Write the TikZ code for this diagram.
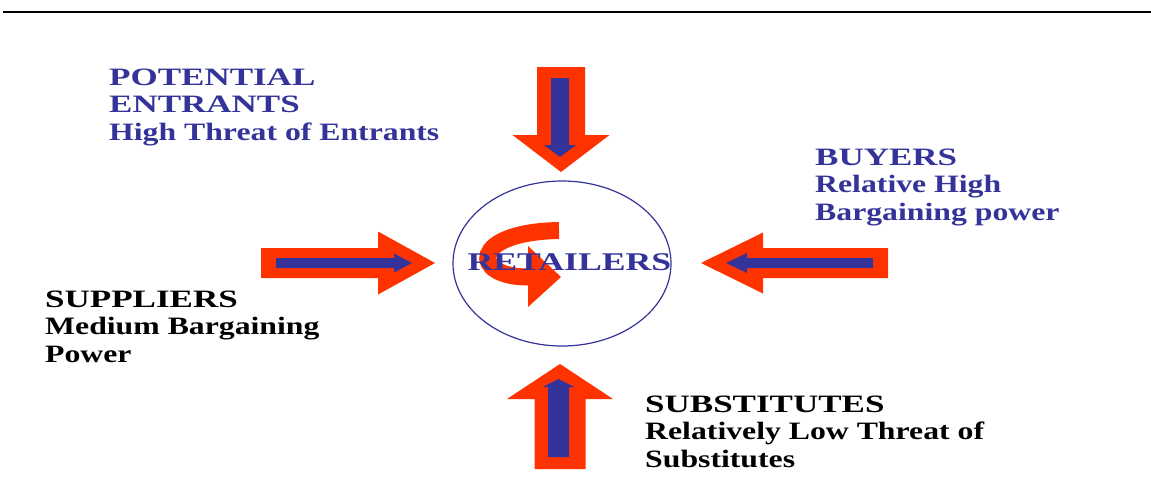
\documentclass[tikz,border=0pt]{standalone}
\usepackage{fontspec}
\setmainfont{Liberation Serif}
\newfontfamily\forcefont[FakeStretch=1.27]{Liberation Serif}
\newfontfamily\capsfont[FakeStretch=1.4]{Liberation Serif}
\usetikzlibrary{shapes.geometric}

\definecolor{forceblue}{RGB}{51,51,153}
\definecolor{forcered}{RGB}{255,51,0}

\begin{document}
\begin{tikzpicture}[x=1pt, y=-1pt]

\useasboundingbox (0,0) rectangle (1151,491);

\tikzset{%
    % length / head base / half shaft / half head, drawn from the tail along +x
    pics/fat arrow/.style args={#1/#2/#3/#4}{
        code={
            \fill (0,-#3) -- (#2,-#3) -- (#2,-#4) -- (#1,0)
                -- (#2,#4) -- (#2,#3) -- (0,#3) -- cycle;
        }
    },
    force label/.style={anchor=north west, inner sep=0, align=left,
        font=\forcefont\bfseries\fontsize{25}{27.5}\selectfont},
    hub ring/.style={draw=forceblue, line width=1.2pt, ellipse,
        minimum width=218pt, minimum height=165pt, inner sep=0}
}

\draw[line width=2.2pt] (3,12) -- (1151,12);

% the four forces, red body with a blue core
\pic[forcered, rotate=-90] at (561,67) {fat arrow=105/68/24/48.5};
\pic[forceblue, rotate=-90] at (560,78) {fat arrow=79/67/9/16};

\pic[forcered, rotate=90] at (560,469) {fat arrow=105/70/25.5/53};
\pic[forceblue, rotate=90] at (558.5,457) {fat arrow=78/70/10.5/16};

\pic[forcered] at (261,263) {fat arrow=174/117/15/31.5};
\pic[forceblue] at (276,263) {fat arrow=136/118/5/9.5};

\pic[forcered, rotate=180] at (888,263) {fat arrow=187/125/15/30.5};
\pic[forceblue, rotate=180] at (873,263) {fat arrow=147/126/5/10};

% rivalry inside the ring
\node[hub ring] (ring) at (562,263.5) {};
\draw[forcered, line width=17pt] (559,230.5) .. controls (470,232) and (470,277) .. (528,277);
\fill[forcered] (528,246) -- (561,277) -- (528,307) -- cycle;

\node[anchor=base, inner sep=0, text=forceblue,
    font=\capsfont\bfseries\fontsize{25.5}{28}\selectfont] (retailers) at (569.5,270) {RETAILERS};

\node[force label, text=forceblue] (entrants) at (109,68.5)
    {{\capsfont POTENTIAL}\\{\capsfont ENTRANTS}\\High Threat of Entrants};
\node[force label, text=forceblue] (buyers) at (815,148.5)
    {{\capsfont BUYERS}\\Relative High\\Bargaining power};
\node[force label] (suppliers) at (45,290.5)
    {{\capsfont SUPPLIERS}\\Medium Bargaining\\Power};
\node[force label] (substitutes) at (645,395.5)
    {{\capsfont SUBSTITUTES}\\Relatively Low Threat of\\Substitutes};

\end{tikzpicture}
\end{document}
